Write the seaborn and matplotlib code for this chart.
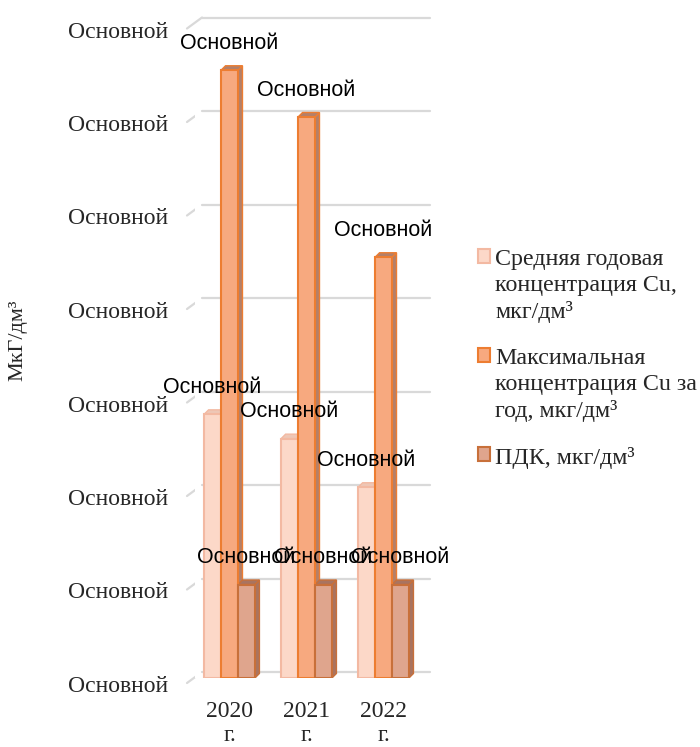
import numpy as np
import pandas as pd
import matplotlib
matplotlib.use("Agg")
import matplotlib.pyplot as plt
import seaborn as sns
from matplotlib.patches import Patch, Polygon
from matplotlib.lines import Line2D
from matplotlib.transforms import IdentityTransform, ScaledTranslation, offset_copy

# ---------------- data ----------------
years = ["2020 г.", "2021 г.", "2022 г."]
series = [
    "Средняя годовая концентрация Cu, мкг/дм³",
    "Максимальная концентрация Cu за год, мкг/дм³",
    "ПДК, мкг/дм³",
]
legend_labels = [
    "Средняя годовая\nконцентрация Cu,\nмкг/дм³",
    "Максимальная\nконцентрация Cu за\nгод, мкг/дм³",
    "ПДК, мкг/дм³",
]
avg_values = [2.82, 2.56, 2.04]
max_values = [6.5, 6.0, 4.5]
pdk_values = [1.0, 1.0, 1.0]
y_ticks = [0, 1, 2, 3, 4, 5, 6, 7]
y_tick_label = "Основной"
data_label = "Основной"
y_title = "МкГ/дм³"

face_colors = ["#FCD8C8", "#F7A97F", "#DFA58D"]
edge_colors = ["#F3B9A2", "#ED7D31", "#C8703A"]
side_colors = ["#EEC7B6", "#B3806A", "#A97460"]

df = pd.DataFrame({
    "Год": years * 3,
    "Серия": [series[0]] * 3 + [series[1]] * 3 + [series[2]] * 3,
    "Значение": avg_values + max_values + pdk_values,
})

# ---------------- figure ----------------
sns.set_style("white")
plt.rcParams["font.family"] = ["Liberation Serif", "DejaVu Serif"]
SERIF = ["Liberation Serif", "DejaVu Serif"]
SANS = ["Liberation Sans", "DejaVu Sans"]

W, H = 700, 747
fig = plt.figure(figsize=(W / 100, H / 100), dpi=100)
ax_left, ax_right, ax_bottom, ax_top = 194.5, 422.5, 678.0, 23.5
ax = fig.add_axes([ax_left / W, (H - ax_bottom) / H,
                   (ax_right - ax_left) / W, (ax_bottom - ax_top) / H])

sns.barplot(data=df, x="Год", y="Значение", hue="Серия",
            palette=dict(zip(series, face_colors)), width=0.66, gap=0,
            saturation=1, legend=False, ax=ax, zorder=3, err_kws={"linewidth": 0})

ax.set_xlim(-0.4545, 2.506)
ax.set_ylim(0, 7)
for s in ax.spines.values():
    s.set_visible(False)
ax.grid(False)

# back gridlines + slanted connectors (pseudo-3D)
xl, xr = ax.get_xlim()
back = offset_copy(ax.transData, fig=fig, x=7.5, y=6, units="dots")
for v in y_ticks:
    ax.plot([xl, xr], [v, v], transform=back, color="#D9D9D9", lw=1.6,
            zorder=0, clip_on=False)
    px, py = ax.transData.transform((xl, v))
    fig.add_artist(Line2D([px - 7.5, px + 7.5], [py - 5, py + 6],
                          transform=IdentityTransform(), color="#D9D9D9", lw=1.6,
                          zorder=0))

# bars: edges and 3D side/top faces, data labels
d = 4.5
for ci, cont in enumerate(ax.containers):
    for p in cont:
        p.set_edgecolor(edge_colors[ci])
        p.set_linewidth(1.5)
        x0, w, h = p.get_x(), p.get_width(), p.get_height()
        (ax0, ay0) = ax.transData.transform((x0, 0))
        (ax1, ay1) = ax.transData.transform((x0 + w, h))
        side = Polygon([(ax1, ay0), (ax1 + d, ay0 + d), (ax1 + d, ay1 + d), (ax1, ay1)],
                       closed=True, transform=IdentityTransform(),
                       facecolor=side_colors[ci], edgecolor=edge_colors[ci], lw=1.0,
                       zorder=2)
        top = Polygon([(ax0, ay1), (ax0 + d, ay1 + d), (ax1 + d, ay1 + d), (ax1, ay1)],
                      closed=True, transform=IdentityTransform(),
                      facecolor=side_colors[ci], edgecolor=edge_colors[ci], lw=1.0,
                      zorder=2)
        ax.add_artist(side)
        ax.add_artist(top)
        ax.annotate(data_label, xy=(x0 + w / 2, h), xytext=(0, 27),
                    textcoords="offset pixels", ha="center", va="center",
                    fontfamily=SANS, fontsize=15.5, color="black", zorder=6,
                    annotation_clip=False)

# y ticks
ax.set_yticks(y_ticks)
ax.set_yticklabels([y_tick_label] * len(y_ticks), fontfamily=SERIF, fontsize=17)
ax.tick_params(axis="y", length=0, pad=19)
shift = ScaledTranslation(0, -6 / 100, fig.dpi_scale_trans)
for t in ax.yaxis.get_major_ticks():
    t.label1.set_transform(t.label1.get_transform() + shift)

# x ticks
ax.set_xticks(range(len(years)))
ax.set_xticklabels([y.replace(" ", "\n") for y in years], fontfamily=SERIF,
                   fontsize=17, linespacing=1.22)
ax.tick_params(axis="x", length=0, pad=16.5)
ax.set_xlabel("")

ax.set_ylabel(y_title, fontfamily=SERIF, fontsize=16)
ax.yaxis.set_label_coords(-0.735, 0.516)

# legend
handles = [Patch(facecolor=fc, edgecolor=ec, linewidth=1.5)
           for fc, ec in zip(face_colors, edge_colors)]
leg = fig.legend(handles=handles, labels=legend_labels, loc="upper left",
                 bbox_to_anchor=(478 / W, 1 - 249 / H), frameon=False,
                 borderpad=0, borderaxespad=0, handlelength=0.5, handleheight=0.5,
                 handletextpad=0.22, labelspacing=1.05,
                 prop={"family": SERIF, "size": 17.3})
for t in leg.get_texts():
    t.set_linespacing(1.3)
try:
    for col in leg._legend_handle_box.get_children():
        for item in col.get_children():
            item.align = "top"
except Exception:
    pass

fig.savefig("out.png", dpi=100)
